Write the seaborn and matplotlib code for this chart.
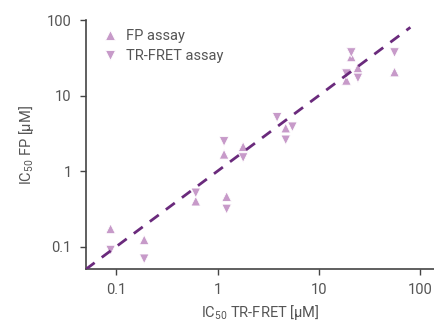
import pandas as pd
import seaborn as sns
import matplotlib
matplotlib.use("Agg")
import matplotlib.pyplot as plt
from matplotlib.ticker import FixedLocator, FixedFormatter, NullLocator

# IC50 values (µM)
fp_x = [0.088, 0.189, 0.61, 1.23, 1.16, 1.79, 4.71, 20.9, 18.7, 24.3, 55.8]
fp_y = [0.172, 0.123, 0.40, 0.46, 1.67, 2.11, 3.71, 32.5, 15.9, 23.2, 20.5]

tr_x = [0.088, 0.189, 0.61, 1.23, 1.16, 1.79, 3.87, 5.48, 4.71, 20.9, 18.7, 24.3, 55.8]
tr_y = [0.090, 0.069, 0.515, 0.315, 2.47, 1.51, 5.15, 3.86, 2.59, 37.1, 19.5, 17.1, 37.1]

# identity line
line_x = [0.05, 80]
line_y = [0.05, 80]

ticks = [0.1, 1, 10, 100]
tick_labels = ["0.1", "1", "10", "100"]

df = pd.concat([
    pd.DataFrame({"x": fp_x, "y": fp_y, "assay": "FP assay"}),
    pd.DataFrame({"x": tr_x, "y": tr_y, "assay": "TR-FRET assay"}),
])

sns.set_style("ticks")
plt.rcParams["font.family"] = ["Roboto", "DejaVu Sans"]
plt.rcParams["mathtext.fontset"] = "custom"
plt.rcParams["mathtext.rm"] = "Roboto"
plt.rcParams["mathtext.it"] = "Roboto"

text_col = "#555555"
spine_col = "#444444"
pt_col = "#c79ac9"
line_col = "#6a2a7c"

fig = plt.figure(figsize=(4.35, 3.23), dpi=100)
ax = fig.add_axes([0.197, 0.166, 0.803, 0.772])

ax.set_xscale("log")
ax.set_yscale("log")

ax.plot(line_x, line_y, color=line_col, lw=2.0, dashes=(4, 3.2), zorder=3)

sns.scatterplot(data=df, x="x", y="y", style="assay",
                markers={"FP assay": "^", "TR-FRET assay": "v"},
                color=pt_col, s=48, edgecolor="white", linewidth=0.6,
                ax=ax, zorder=2)

ax.set_xlim(0.05, 140)
ax.set_ylim(0.05, 100)

for axis in (ax.xaxis, ax.yaxis):
    axis.set_major_locator(FixedLocator(ticks))
    axis.set_major_formatter(FixedFormatter(tick_labels))
    axis.set_minor_locator(NullLocator())

ax.tick_params(axis="both", length=4, width=1, color=spine_col,
               labelcolor=text_col, labelsize=10.5, pad=6)

for side in ("top", "right"):
    ax.spines[side].set_visible(False)
for side in ("left", "bottom"):
    ax.spines[side].set_color(spine_col)
    ax.spines[side].set_linewidth(1.2)

ax.set_xlabel(r"IC$_{50}$ TR-FRET [µM]", color=text_col, fontsize=10.5, labelpad=4)
ax.set_ylabel(r"IC$_{50}$ FP [µM]", color=text_col, fontsize=10.5, labelpad=8)

leg = ax.legend(loc="upper left", frameon=False, fontsize=10.5,
                bbox_to_anchor=(0.01, 1.0), handletextpad=0.35,
                handlelength=1.6, labelspacing=0.45, borderaxespad=0.2)
for t in leg.get_texts():
    t.set_color(text_col)

fig.savefig("out.png", dpi=100)
